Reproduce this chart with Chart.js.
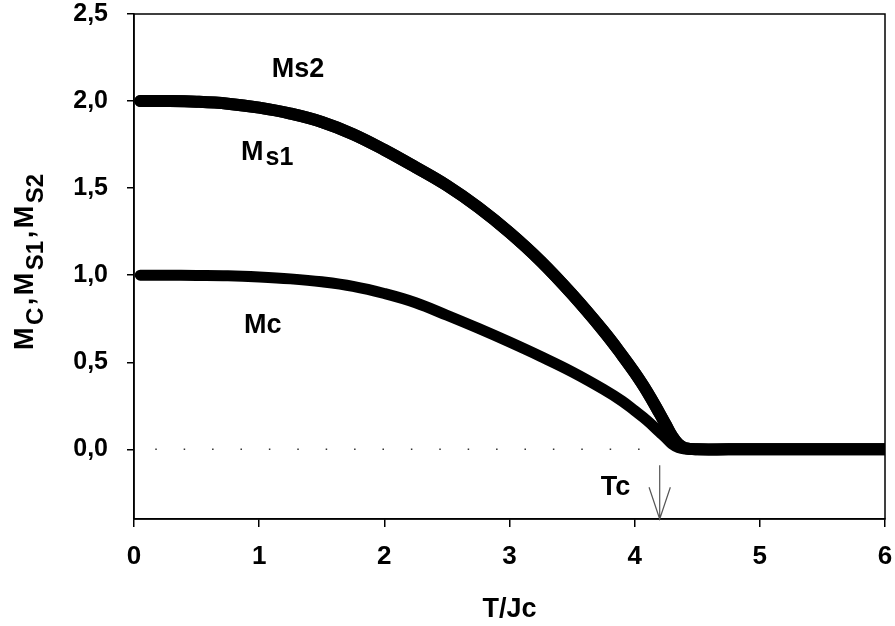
<!DOCTYPE html>
<html>
<head>
<meta charset="utf-8">
<script src="https://cdn.jsdelivr.net/npm/chart.js@4.4.1/dist/chart.umd.min.js"></script>
<style>
  html, body { margin: 0; padding: 0; background: #fff; }
  #contenedor { width: 895px; height: 626px; position: relative; }
</style>
</head>
<body>
<div id="contenedor"><canvas id="grafica"></canvas></div>
<script>
const temperaturas = [0.05, 0.25, 0.5, 0.75, 1.0, 1.25, 1.5, 1.75, 2.0, 2.25, 2.5, 2.75, 3.0, 3.25, 3.5, 3.75, 3.9, 4.0, 4.1, 4.2, 4.25, 4.3, 4.35, 4.4, 4.5, 4.75, 5.0, 5.25, 5.5, 5.75, 6.0]
const mc  = [1.0, 1.0, 0.999, 0.997, 0.99, 0.979, 0.962, 0.936, 0.895, 0.842, 0.77, 0.695, 0.616, 0.533, 0.445, 0.345, 0.277, 0.222, 0.165, 0.098, 0.065, 0.03, 0.01, 0.002, 0, 0, 0, 0, 0, 0, 0]
const ms1 = [2.0, 2.0, 1.996, 1.985, 1.962, 1.928, 1.88, 1.81, 1.72, 1.62, 1.515, 1.39, 1.245, 1.08, 0.89, 0.68, 0.54, 0.44, 0.33, 0.205, 0.14, 0.075, 0.03, 0.008, 0, 0, 0, 0, 0, 0, 0]
const ms2 = [2.0, 2.0, 1.996, 1.985, 1.962, 1.928, 1.88, 1.81, 1.72, 1.62, 1.515, 1.39, 1.245, 1.08, 0.89, 0.68, 0.54, 0.44, 0.33, 0.205, 0.14, 0.075, 0.03, 0.008, 0, 0, 0, 0, 0, 0, 0]
const lineaCero = [0.17, 4.05]
const ticksX = [0, 1, 2, 3, 4, 5, 6]
const ticksY = [0, 0.5, 1.0, 1.5, 2.0, 2.5]
const tc = 4.2

const fuente = '"Liberation Sans", Arial, sans-serif'

function puntos(xs, ys) {
  return xs.map((x, i) => ({ x: x, y: ys[i] }))
}

// etiquetas dentro del grafico (en unidades de los ejes)
const etiquetas = [
  { texto: 'Ms2', sub: '', t: 1.10, m: 2.138 },
  { texto: 'M', sub: 's1', t: 0.855, m: 1.661 },
  { texto: 'Mc', sub: '', t: 0.879, m: 0.667 },
  { texto: 'Tc', sub: '', t: 3.73, m: -0.264 }
]

const extras = {
  id: 'extras',
  beforeDatasetsDraw(chart) {
    const ctx = chart.ctx
    const a = chart.chartArea
    ctx.save()
    ctx.strokeStyle = '#000'
    ctx.lineWidth = 1.5
    ctx.strokeRect(a.left, a.top, a.right - a.left, a.bottom - a.top)
    ctx.restore()
  },
  afterDraw(chart) {
    const ctx = chart.ctx
    const sx = chart.scales.x
    const sy = chart.scales.y
    const a = chart.chartArea
    ctx.save()
    ctx.fillStyle = '#000'
    ctx.textBaseline = 'alphabetic'
    ctx.textAlign = 'left'

    etiquetas.forEach(e => {
      const x = sx.getPixelForValue(e.t)
      const y = sy.getPixelForValue(e.m)
      ctx.font = 'bold 27px ' + fuente
      ctx.fillText(e.texto, x, y)
      if (e.sub) {
        const w = ctx.measureText(e.texto).width
        ctx.font = 'bold 25px ' + fuente
        ctx.fillText(e.sub, x + w + 2, y + 5)
      }
    })

    // flecha Tc
    const xa = sx.getPixelForValue(tc)
    const y1 = sy.getPixelForValue(-0.092)
    const y2 = sy.getPixelForValue(-0.4)
    const ym = sy.getPixelForValue(-0.218)
    const dx = sx.getPixelForValue(tc + 0.085) - xa
    ctx.strokeStyle = '#555'
    ctx.lineWidth = 1.2
    ctx.beginPath()
    ctx.moveTo(xa, y1); ctx.lineTo(xa, y2)
    ctx.moveTo(xa - dx, ym); ctx.lineTo(xa, y2); ctx.lineTo(xa + dx, ym)
    ctx.stroke()

    // titulo eje x
    ctx.font = 'bold 27px ' + fuente
    ctx.textAlign = 'center'
    ctx.fillText('T/Jc', (a.left + a.right) / 2, 617)

    // titulo eje y con subindices
    ctx.translate(33, 350)
    ctx.rotate(-Math.PI / 2)
    ctx.textAlign = 'left'
    const partes = [['M', 0], ['C', 1], [',', 0], ['M', 0], ['S1', 1], [',', 0], ['M', 0], ['S2', 1]]
    let pos = 0
    partes.forEach(p => {
      ctx.font = p[1] ? 'bold 24px ' + fuente : 'bold 27px ' + fuente
      ctx.fillText(p[0], pos, p[1] ? 10 : 0)
      pos += ctx.measureText(p[0]).width + 2.5
    })
    ctx.restore()
  }
}

function sinRelleno(s) {
  s.paddingTop = 0
  s.paddingBottom = 0
  s.paddingLeft = 0
  s.paddingRight = 0
}

const ctx = document.getElementById('grafica').getContext('2d')
const grafica = new Chart(ctx, {
  type: 'line',
  data: {
    datasets: [{
      label: 'cero',
      data: lineaCero.map(x => ({ x: x, y: 0 })),
      borderColor: '#333',
      borderWidth: 1.5,
      borderDash: [1.5, 26.9],
      pointRadius: 0
    }, {
      label: 'Mc',
      data: puntos(temperaturas, mc),
      borderColor: '#000',
      borderWidth: 11,
      borderCapStyle: 'round',
      borderJoinStyle: 'round',
      tension: 0.4,
      pointRadius: 0
    }, {
      label: 'Ms1',
      data: puntos(temperaturas, ms1),
      borderColor: '#000',
      borderWidth: 12,
      borderCapStyle: 'round',
      borderJoinStyle: 'round',
      tension: 0.4,
      pointRadius: 0
    }, {
      label: 'Ms2',
      data: puntos(temperaturas, ms2),
      borderColor: '#000',
      borderWidth: 12,
      borderCapStyle: 'round',
      borderJoinStyle: 'round',
      tension: 0.4,
      pointRadius: 0
    }]
  },
  options: {
    responsive: true,
    maintainAspectRatio: false,
    animation: false,
    layout: { padding: { top: 14, right: 10, left: 0, bottom: 0 } },
    plugins: {
      legend: { display: false },
      tooltip: { enabled: false }
    },
    scales: {
      x: {
        type: 'linear',
        min: 0,
        max: 6,
        afterFit: s => { s.height = 107; sinRelleno(s) },
        afterBuildTicks: s => { s.ticks = ticksX.map(v => ({ value: v })) },
        border: { color: '#000', width: 1.5 },
        grid: { drawOnChartArea: false, drawTicks: true, tickLength: 8, color: '#000', lineWidth: 1.5 },
        ticks: {
          color: '#000',
          padding: 14,
          maxRotation: 0,
          font: { family: fuente, size: 26, weight: 'bold' }
        }
      },
      y: {
        type: 'linear',
        min: -0.4,
        max: 2.5,
        afterFit: s => { s.width = 134; sinRelleno(s) },
        afterBuildTicks: s => { s.ticks = ticksY.map(v => ({ value: v })) },
        border: { color: '#000', width: 1.5 },
        grid: { drawOnChartArea: false, drawTicks: true, tickLength: 7, color: '#000', lineWidth: 1.5 },
        ticks: {
          color: '#000',
          padding: 19,
          font: { family: fuente, size: 25, weight: 'bold' },
          callback: v => v.toFixed(1).replace('.', ',')
        }
      }
    }
  },
  plugins: [extras]
})
</script>
</body>
</html>
